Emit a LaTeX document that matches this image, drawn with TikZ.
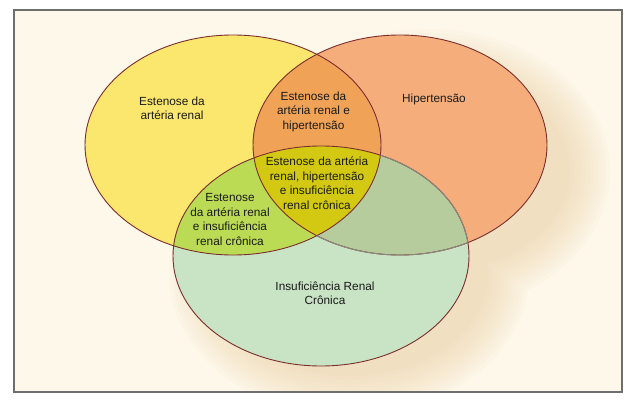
\documentclass[tikz,border=0pt]{standalone}
\usepackage{fontspec}
\setmainfont{Liberation Sans}
\definecolor{bgc}{HTML}{FEF8EA}
\definecolor{shc}{HTML}{E8CC9C}
\definecolor{framec}{HTML}{6E6E6E}
\definecolor{yc}{HTML}{FBE76D}
\definecolor{oc}{HTML}{F5AE7B}
\definecolor{gc}{HTML}{C9E3C5}
\definecolor{yoc}{HTML}{F0A356}
\definecolor{ygc}{HTML}{BCDB55}
\definecolor{ogc}{HTML}{B6CC9D}
\definecolor{yogc}{HTML}{D4C912}
\definecolor{edgec}{HTML}{7B2E2E}
\definecolor{edgegray}{HTML}{8A8A80}
\definecolor{txtc}{HTML}{1A1A1A}
\def\ellY{(233,145) ellipse [x radius=148pt, y radius=110pt]}
\def\ellO{(400,145) ellipse [x radius=147pt, y radius=110pt]}
\def\ellG{(321,256) ellipse [x radius=148pt, y radius=110pt]}
\begin{document}
\begin{tikzpicture}[x=1pt,y=-1pt,
  lbl/.style={align=center,font=\fontsize{11.8}{14.5}\selectfont,text=txtc,inner sep=0pt},
  outl/.style={draw=edgec,line width=0.9pt},
  grayl/.style={draw=edgegray,line width=0.9pt}]
\useasboundingbox (0,0) rectangle (636,401);
\fill[white] (0,0) rectangle (636,401);
\fill[bgc] (14,10) rectangle (622,392);
% soft shadow
\begin{scope}
\clip (14,10) rectangle (622,392);
\foreach \d in {40,36,32,28,24,20,16,12,8,4,0} {
  \pgfmathsetmacro\rxa{140+\d}
  \pgfmathsetmacro\rya{102+\d}
  \fill[shc,opacity=0.055]
    (400+30,145+26) ellipse [x radius=\rxa pt, y radius=\rya pt]
    (321+28,256+18) ellipse [x radius=\rxa pt, y radius=\rya pt];
}
\end{scope}
% region fills
\fill[yc] \ellY;
\fill[oc] \ellO;
\fill[gc] \ellG;
\begin{scope}\clip \ellY; \fill[yoc] \ellO; \fill[ygc] \ellG; \end{scope}
\begin{scope}\clip \ellO; \fill[ogc] \ellG; \end{scope}
\begin{scope}\clip \ellY; \clip \ellO; \fill[yogc] \ellG; \end{scope}
% outlines
\draw[outl] \ellY;
\draw[outl] \ellO;
\draw[outl] \ellG;
\begin{scope}[even odd rule]
\clip (0,0) rectangle (636,401) \ellY;
\begin{scope}[nonzero rule]\clip \ellO; \draw[grayl] \ellG; \end{scope}
\begin{scope}[nonzero rule]\clip \ellG; \draw[grayl] \ellO; \end{scope}
\end{scope}
% frame
\draw[framec,line width=1.8pt] (14,10) rectangle (622,392);
% labels
\node[lbl] (tY) at (172,108.5) {Estenose da\\artéria renal};
\node[lbl] (tO) at (434,99) {Hipertensão};
\node[lbl] (tYO) at (313.5,111.5) {Estenose da\\artéria renal e\\hipertensão};
\node[lbl] (tYOG) at (317,183) {Estenose da artéria\\renal, hipertensão\\e insuficiência\\renal crônica};
\node[lbl] (tYG) at (230,219.5) {Estenose\\da artéria renal\\e insuficiência\\renal crônica};
\node[lbl] (tG) at (325,293.5) {Insuficiência Renal\\Crônica};
\end{tikzpicture}
\end{document}
